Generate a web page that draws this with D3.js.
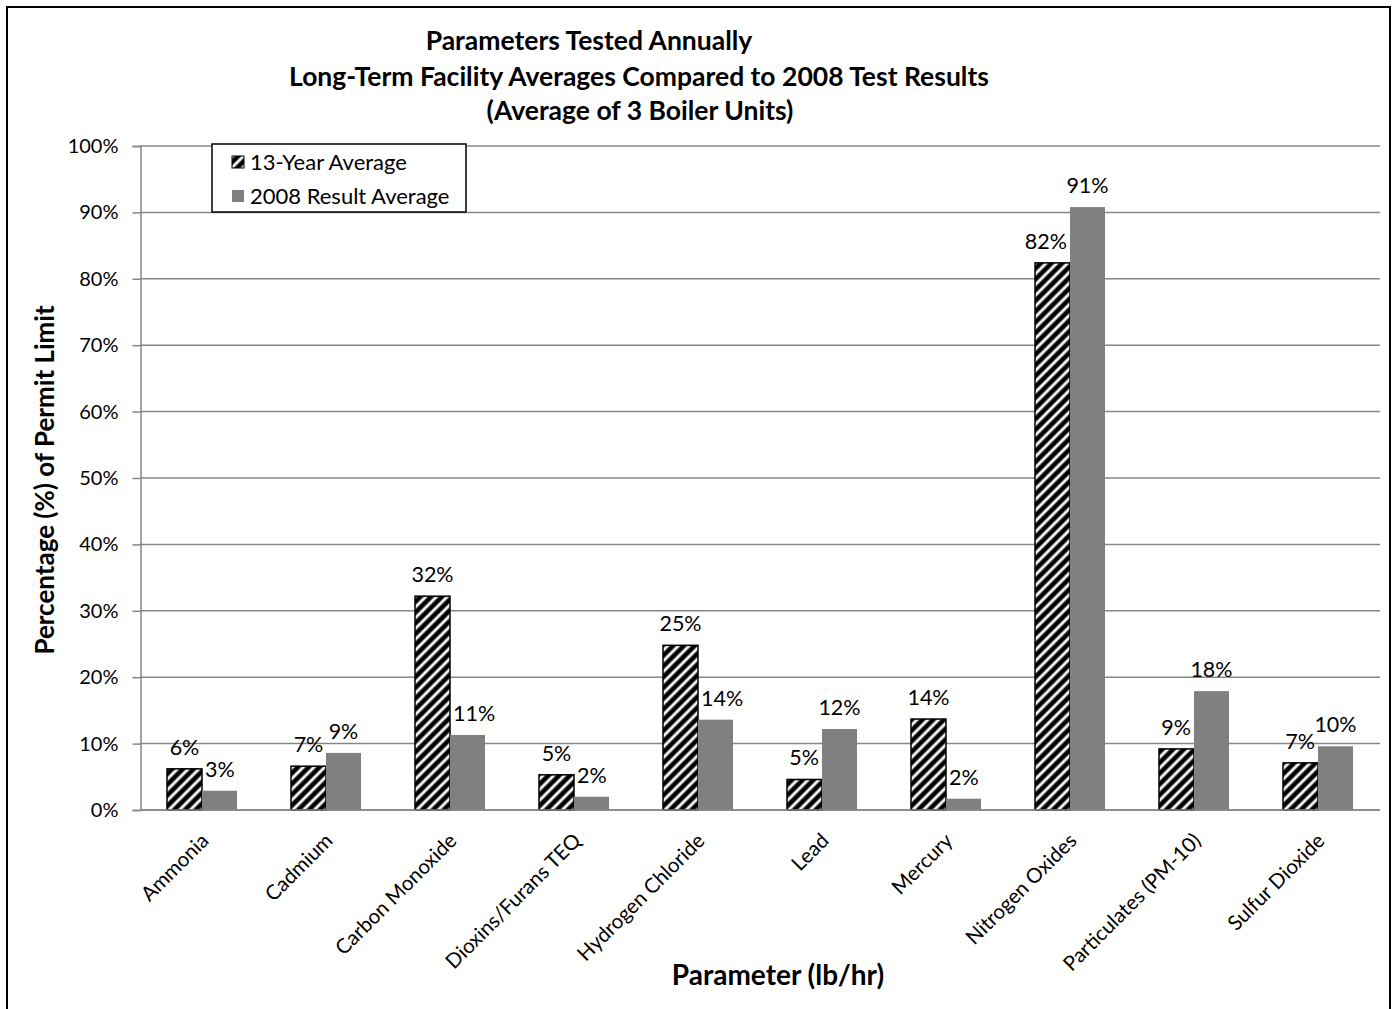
<!DOCTYPE html>
<html>
<head>
<meta charset="utf-8">
<script src="https://cdn.jsdelivr.net/npm/d3@7"></script>
<style>
  html, body { margin: 0; padding: 0; background: #fff; }
  svg { display: block; font-family: Lato, "Open Sans", sans-serif; }
</style>
</head>
<body>
<svg id="chart" width="1397" height="1009"></svg>
<script>
// Parameters (lb/hr) tested annually
const categories = ["Ammonia", "Cadmium", "Carbon Monoxide", "Dioxins/Furans TEQ", "Hydrogen Chloride",
  "Lead", "Mercury", "Nitrogen Oxides", "Particulates  (PM-10)", "Sulfur Dioxide"];
const seriesNames = ["13-Year Average", "2008 Result Average"];
// Percent of permit limit
const avg13Year = [6.2, 6.6, 32.2, 5.3, 24.8, 4.6, 13.7, 82.4, 9.2, 7.1];
const result2008 = [2.9, 8.6, 11.3, 2.0, 13.6, 12.2, 1.7, 90.8, 17.9, 9.6];
const yTicks = [0, 10, 20, 30, 40, 50, 60, 70, 80, 90, 100];
const titleLines = ["Parameters Tested Annually",
  "Long-Term Facility Averages Compared to 2008 Test Results",
  "(Average of 3 Boiler Units)"];

const svg = d3.select("#chart");
const defs = svg.append("defs");

// soft white diagonal stripes on black
const grad = defs.append("linearGradient").attr("id", "stripeGrad")
  .attr("x1", "0").attr("x2", "1").attr("y1", "0").attr("y2", "0");
[[0, "#000"], [0.22, "#000"], [0.45, "#fff"], [0.6, "#fff"], [0.83, "#000"], [1, "#000"]]
  .forEach(([o, c]) => grad.append("stop").attr("offset", o).attr("stop-color", c));
const pat = defs.append("pattern").attr("id", "hatch")
  .attr("patternUnits", "userSpaceOnUse")
  .attr("width", 7.6).attr("height", 7.6)
  .attr("patternTransform", "rotate(45)");
pat.append("rect").attr("width", 7.6).attr("height", 7.6).attr("fill", "url(#stripeGrad)");

const gray = "#808080";
const gridColor = "#878787";

// outer frame
svg.append("rect").attr("x", 7).attr("y", 7).attr("width", 1383).attr("height", 1010)
  .attr("fill", "none").attr("stroke", "#000").attr("stroke-width", 2);

const y = d3.scaleLinear().domain([0, 100]).range([810, 146]);
const x0 = d3.scaleBand().domain(categories).range([140, 1380])
  .paddingInner(0.4355).paddingOuter(0.21775);
const x1 = d3.scaleBand().domain(seriesNames).range([0, x0.bandwidth()]);

// gridlines
svg.append("g").selectAll("line").data(yTicks).join("line")
  .attr("x1", 140).attr("x2", 1380)
  .attr("y1", d => y(d)).attr("y2", d => y(d))
  .attr("stroke", gridColor).attr("stroke-width", 1.5);

// y axis
const yAxis = svg.append("g").attr("transform", "translate(140.5,0)")
  .call(d3.axisLeft(y).tickValues(yTicks).tickSize(8).tickPadding(14).tickFormat(d => d + "%"));
yAxis.select(".domain").attr("stroke", gridColor).attr("stroke-width", 1.5);
yAxis.selectAll(".tick line").attr("stroke", gridColor).attr("stroke-width", 1.5);
yAxis.selectAll(".tick text").attr("font-size", 20).attr("fill", "#000")
  .attr("font-family", "Lato, sans-serif");

// bars
const rows = categories.map((c, i) => ({ cat: c, vals: [avg13Year[i], result2008[i]] }));
const groups = svg.append("g").selectAll("g").data(rows).join("g")
  .attr("transform", d => `translate(${x0(d.cat)},0)`);

groups.selectAll("rect").data(d => d.vals.map((v, j) => ({ v, s: seriesNames[j] })))
  .join("rect")
  .attr("x", d => x1(d.s))
  .attr("y", d => y(d.v))
  .attr("width", x1.bandwidth())
  .attr("height", d => y(0) - y(d.v))
  .attr("fill", d => d.s === seriesNames[0] ? "url(#hatch)" : gray)
  .attr("stroke", d => d.s === seriesNames[0] ? "#000" : "none")
  .attr("stroke-width", 1.5);

// value labels; nudged sideways when the neighbouring bar rises past them
const fmt = v => Math.round(v) + "%";
const labelGap = 14;
groups.each(function(row) {
  const g = d3.select(this);
  row.vals.forEach((v, j) => {
    const s = seriesNames[j];
    const cx = x1(s) + x1.bandwidth() / 2;
    const t = g.append("text")
      .attr("y", y(v) - labelGap)
      .attr("text-anchor", "middle")
      .attr("font-size", 21.5).attr("fill", "#000")
      .text(fmt(v));
    const w = t.node().getComputedTextLength();
    const other = row.vals[1 - j];
    let x = cx;
    if (y(other) < y(v) - labelGap) {
      if (j === 1) {
        const edge = x1(s) + 3;
        if (x - w / 2 < edge) x = edge + w / 2;
      } else {
        const edge = x1(s) + x1.bandwidth() - 3;
        if (x + w / 2 > edge) x = edge - w / 2;
      }
    }
    t.attr("x", x);
  });
});

// x axis line
svg.append("line").attr("x1", 140).attr("x2", 1380).attr("y1", y(0)).attr("y2", y(0))
  .attr("stroke", gridColor).attr("stroke-width", 1.5);

// category labels, rotated
svg.append("g").selectAll("text").data(categories).join("text")
  .attr("transform", d => `translate(${x0(d) + x0.bandwidth() / 2 + 8},842) rotate(-45)`)
  .attr("text-anchor", "end")
  .attr("font-size", 20.5).attr("fill", "#000")
  .text(d => d);

// titles
svg.append("g").selectAll("text").data(titleLines).join("text")
  .attr("x", (d, i) => [589, 639, 640][i])
  .attr("y", (d, i) => [50, 86, 120][i])
  .attr("text-anchor", "middle")
  .attr("font-weight", "bold").attr("font-size", 26.5).attr("fill", "#000")
  .text(d => d);

svg.append("text").attr("x", 778).attr("y", 985).attr("text-anchor", "middle")
  .attr("font-weight", "bold").attr("font-size", 28).text("Parameter (lb/hr)");

svg.append("text").attr("transform", "translate(54,480) rotate(-90)")
  .attr("text-anchor", "middle")
  .attr("font-weight", "bold").attr("font-size", 26).text("Percentage (%) of Permit Limit");

// legend
const legend = svg.append("g").attr("transform", "translate(212,144)");
legend.append("rect").attr("width", 254).attr("height", 68)
  .attr("fill", "#fff").attr("stroke", "#000").attr("stroke-width", 1.5);
const items = legend.selectAll("g").data(seriesNames).join("g")
  .attr("transform", (d, i) => `translate(20,${18 + i * 34})`);
items.append("rect").attr("x", 0).attr("y", -6).attr("width", 12).attr("height", 12)
  .attr("fill", (d, i) => i === 0 ? "url(#hatch)" : gray)
  .attr("stroke", (d, i) => i === 0 ? "#000" : "none").attr("stroke-width", 1);
items.append("text").attr("x", 18).attr("y", 8)
  .attr("font-size", 22).attr("fill", "#000").text(d => d);
</script>
</body>
</html>
